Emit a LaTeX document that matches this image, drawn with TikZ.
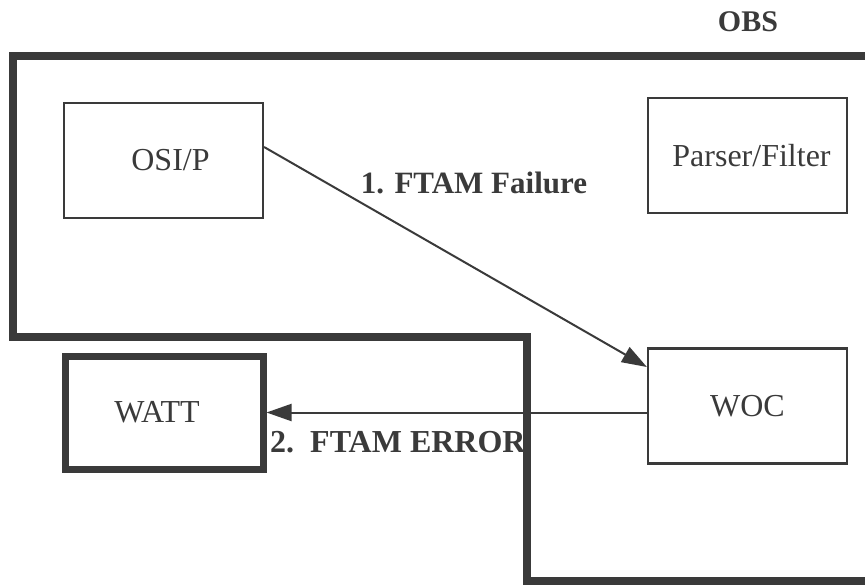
\documentclass[tikz,border=0pt]{standalone}
\usepackage{fontspec}
\setmainfont{Liberation Serif}
\usetikzlibrary{arrows.meta}
\definecolor{ink}{HTML}{3A3A3A}
\begin{document}
\begin{tikzpicture}[x=1pt,y=-1pt,
  box/.style={draw=ink,line width=2.2pt,minimum width=199pt,minimum height=115pt,inner sep=0pt,text=ink,font=\fontsize{32}{36}\selectfont},
  thickbox/.style={box,line width=7pt,minimum width=198pt,minimum height=113pt},
  arr/.style={draw=ink,line width=2pt,-{Triangle[length=25pt,width=17pt]}},
  lbl/.style={text=ink,font=\bfseries\fontsize{31}{36}\selectfont,inner sep=0pt}]
\useasboundingbox (0,0) rectangle (865,584);
\clip (0,0) rectangle (865,584);
% OBS boundary
\draw[ink,line width=8pt,line join=miter] (880,56) -- (13,56) -- (13,337) -- (527,337) -- (527,581) -- (880,581);
\node[lbl,font=\bfseries\fontsize{30}{34}\selectfont] (obs) at (748,22) {OBS};
% boxes
\node[box,text width=199pt,align=center] (osi) at (163.5,160.5) {\hspace*{14pt}OSI/P};
\node[box] (pf) at (747.5,155.5) {\hspace*{8pt}Parser/Filter};
\node[box] (woc) at (747.5,406) {WOC};
\node[thickbox] (watt) at (164,412.5) {WATT\hspace*{14pt}};
% connectors
\draw[arr] ([yshift=13.5pt]osi.east) -- ([yshift=39pt]woc.west);
\draw[arr] (woc.west |- watt.east) -- (watt.east);
\node[lbl] (l1) at (474,183) {1. FTAM Failure};
\node[lbl,anchor=west,font=\bfseries\fontsize{32}{36}\selectfont] (l2) at (270,442) {2.\ \ FTAM ERROR};
\end{tikzpicture}
\end{document}
